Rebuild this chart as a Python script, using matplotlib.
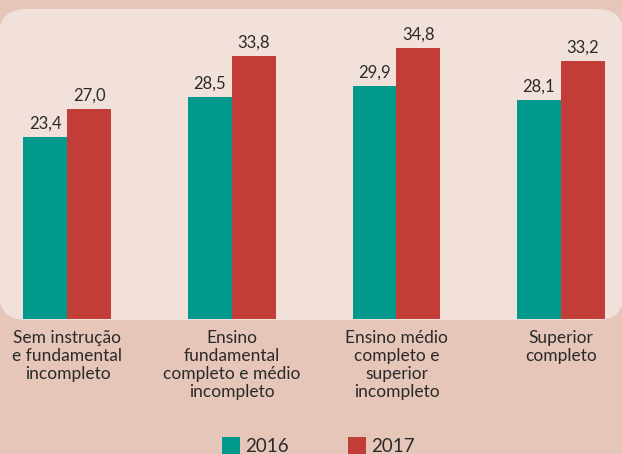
import matplotlib
matplotlib.use("Agg")
import matplotlib.pyplot as plt
from matplotlib.patches import FancyBboxPatch, Rectangle
import numpy as np

categories = ["Sem instrução\ne fundamental\nincompleto",
              "Ensino\nfundamental\ncompleto e médio\nincompleto",
              "Ensino médio\ncompleto e\nsuperior\nincompleto",
              "Superior\ncompleto"]
values_2016 = [23.4, 28.5, 29.9, 28.1]
values_2017 = [27.0, 33.8, 34.8, 33.2]
series_names = ["2016", "2017"]

W, H = 622, 454
OUTER = "#e6c6b9"
INNER = "#f2e1da"
TEAL = "#00998c"
RED = "#c23c38"
TXT = "#2a2a2a"
FONT = ["Lato", "DejaVu Sans"]

fig = plt.figure(figsize=(W / 100, H / 100), dpi=100)
fig.patch.set_facecolor(OUTER)

# background axes in pixel coordinates
bg = fig.add_axes([0, 0, 1, 1], zorder=0)
bg.set_xlim(0, W)
bg.set_ylim(H, 0)
bg.axis("off")
bg.add_patch(FancyBboxPatch((-1, 9), W + 3, 320 - 9,
                            boxstyle="round,pad=0,rounding_size=27",
                            facecolor=INNER, edgecolor="none"))

# legend
sq = 18
for (lx, tx, name, col) in ((222, 245, series_names[0], TEAL),
                            (348, 371, series_names[1], RED)):
    bg.add_patch(Rectangle((lx, 437), sq, sq, facecolor=col, edgecolor="none"))
    bg.text(tx, 446, name, ha="left", va="center",
            fontsize=13.5, color=TXT, family=FONT)

# main axes spanning x 0..622, y 9..319
ax = fig.add_axes([0, 1 - 319 / H, 1, (319 - 9) / H], zorder=1)
ax.set_facecolor("none")
spacing = 164.5
c0 = 67.5
ppu = 7.78
ax.set_xlim(-c0 / spacing, (W - c0) / spacing)
ax.set_ylim(0, (319 - 9) / ppu)
ax.axis("off")

x = np.arange(len(categories))
w = 44 / spacing
b1 = ax.bar(x - w / 2, values_2016, w, color=TEAL, zorder=2, linewidth=0)
b2 = ax.bar(x + w / 2, values_2017, w, color=RED, zorder=2, linewidth=0)

for bars, vals in ((b1, values_2016), (b2, values_2017)):
    for r, v in zip(bars, vals):
        ax.annotate(f"{v:.1f}".replace(".", ","),
                    (r.get_x() + r.get_width() / 2, v),
                    xytext=(0, 4), textcoords="offset points",
                    ha="center", va="bottom", fontsize=12, color=TXT,
                    family=FONT)

# category labels
for xi, lab in zip(x, categories):
    ax.annotate(lab, (xi, 0), xycoords="data", xytext=(0, -8),
                textcoords="offset points", ha="center", va="top",
                fontsize=12.5, color=TXT, family=FONT, linespacing=1.15,
                annotation_clip=False)

fig.savefig("out.png", dpi=100, facecolor=OUTER)
